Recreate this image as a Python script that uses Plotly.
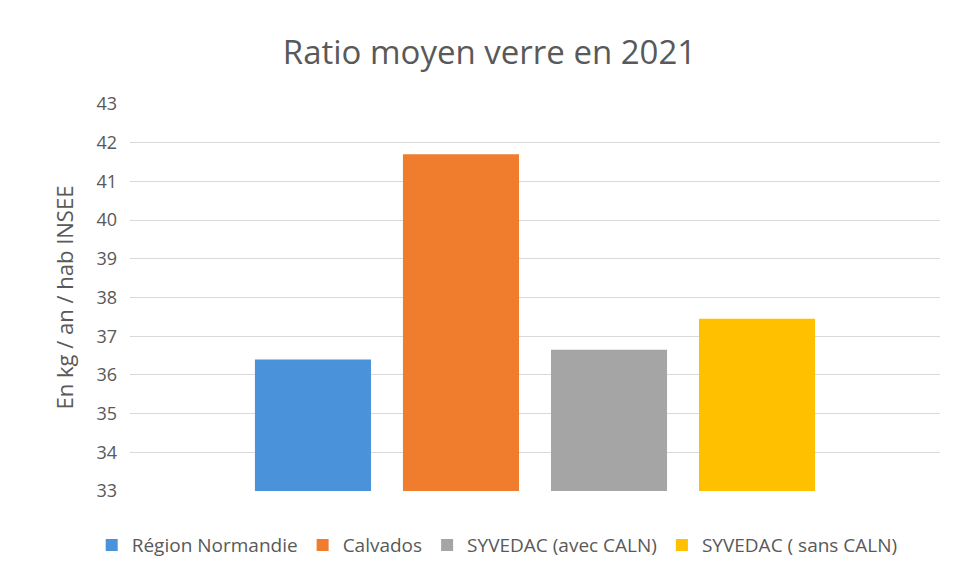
import plotly.graph_objects as go

categories = ["Région Normandie", "Calvados", "SYVEDAC (avec CALN)", "SYVEDAC ( sans CALN)"]
values = [36.4, 41.7, 36.65, 37.45]
colors = ["#4A93DA", "#EF7D2D", "#A5A5A5", "#FFC000"]
year = ["2021"]

fig = go.Figure()
for name, v, c in zip(categories, values, colors):
    fig.add_trace(go.Bar(x=year, y=[v], name=name, marker=dict(color=c, line=dict(width=0))))

fig.update_layout(
    width=963, height=580,
    paper_bgcolor="white", plot_bgcolor="white",
    margin=dict(l=122, r=31, t=96, b=97),
    barmode="group", bargap=0.269, bargroupgap=0.216,
    title=dict(text="Ratio moyen verre en 2021", x=0.5, xanchor="center", xref="container",
               y=0.924, yanchor="middle",
               font=dict(family="Open Sans", size=33, color="#595959")),
    font=dict(family="Open Sans", color="#595959"),
    legend=dict(orientation="h", xref="container", x=0.508, xanchor="center",
                yref="container", y=0.074, yanchor="middle",
                font=dict(size=19, color="#595959"), itemwidth=30,
                traceorder="normal"),
    showlegend=True,
)
fig.update_xaxes(showticklabels=False, showgrid=False, zeroline=False, showline=False)
fig.update_yaxes(range=[33, 43], dtick=1, tick0=33, showgrid=True, gridcolor="#D9D9D9",
                 gridwidth=1, zeroline=False, showline=False,
                 tickfont=dict(size=18, color="#595959"), ticklabelstandoff=12,
                 title=dict(text="En kg / an / hab INSEE", font=dict(size=22, color="#595959"),
                            standoff=16))

fig.write_html("out.html")
